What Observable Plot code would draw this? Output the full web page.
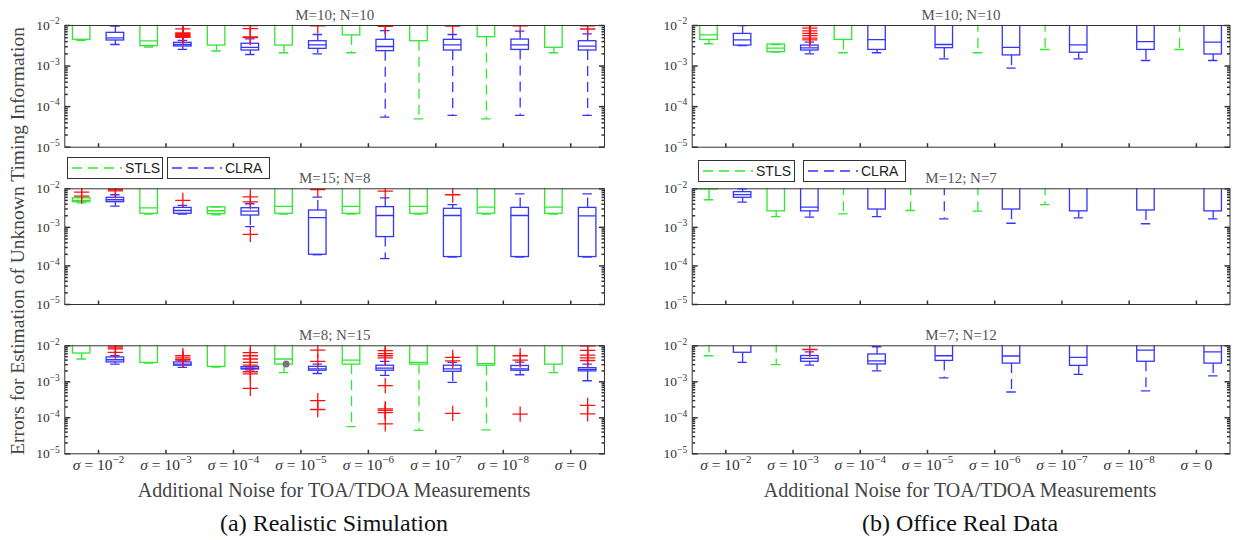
<!DOCTYPE html>
<html><head><meta charset="utf-8">
<script src="https://cdn.jsdelivr.net/npm/d3@7"></script>
<script src="https://cdn.jsdelivr.net/npm/@observablehq/plot@0.6"></script>
<style>
body{margin:0;background:#fff;}
#root{position:relative;width:1233px;height:540px;overflow:hidden;background:#fff;font-family:"Liberation Serif",serif;}
.pnl{position:absolute;}
.leg{position:absolute;height:22px;border:1px solid #333;background:#fff;box-sizing:border-box;display:flex;align-items:center;font-family:"Liberation Sans",Arial,sans-serif;font-size:14px;color:#222;z-index:5;}
.leg svg{margin-left:3px;margin-right:2px;}
.txt{position:absolute;white-space:nowrap;transform:translateX(-50%);line-height:1.15;}
</style></head>
<body><div id="root"></div>
<script>
// ---------- data ----------
const categories = ["σ = 10^-2","σ = 10^-3","σ = 10^-4","σ = 10^-5","σ = 10^-6","σ = 10^-7","σ = 10^-8","σ = 0"];
const methods = ["STLS","CLRA"];
const yMajorTicks = [1e-5, 1e-4, 1e-3, 1e-2];
const panelTitles = ["M=10; N=10","M=15; N=8","M=8; N=15","M=10; N=10","M=12; N=7","M=7; N=12"];
const columnCaptions = ["(a) Realistic Simulation","(b) Office Real Data"];
const xTitle = "Additional Noise for TOA/TDOA Measurements";
const yTitle = "Errors for Estimation of Unknown Timing Information";

// box stats per category: [low whisker, q1, median, q3, high whisker]; values above 1e-2 fall outside the axis
const a1_STLS = [[4.3e-3,4.45e-3,1.2e-2,1.4e-2,1.6e-2],[2.95e-3,3.1e-3,4.2e-3,1.3e-2,1.6e-2],[2.35e-3,3.2e-3,1.2e-2,1.4e-2,1.6e-2],[2.13e-3,3.2e-3,1.2e-2,1.4e-2,1.6e-2],[2.13e-3,5.7e-3,1.2e-2,1.4e-2,1.6e-2],[5.0e-5,4.1e-3,1.2e-2,1.4e-2,1.6e-2],[5.0e-5,5.15e-3,1.2e-2,1.4e-2,1.6e-2],[2.13e-3,2.82e-3,1.2e-2,1.4e-2,1.6e-2]];
const a1_CLRA = [[3.4e-3,4.27e-3,4.97e-3,6.6e-3,9.6e-3],[2.57e-3,3.04e-3,3.4e-3,3.75e-3,4.3e-3],[1.93e-3,2.42e-3,2.9e-3,3.55e-3,4.7e-3],[2.0e-3,2.66e-3,3.34e-3,4.1e-3,6.0e-3],[5.5e-5,2.33e-3,3.04e-3,4.44e-3,7.5e-3],[6.1e-5,2.42e-3,3.34e-3,4.44e-3,6.0e-3],[6.1e-5,2.5e-3,3.34e-3,4.5e-3,7.25e-3],[6.1e-5,2.42e-3,3.1e-3,4.1e-3,6.2e-3]];
const a1_outliers = [[1,"CLRA",8.3e-3],[1,"CLRA",6.6e-3],[1,"CLRA",6.3e-3],[1,"CLRA",6.0e-3],[1,"CLRA",5.7e-3],[1,"CLRA",5.4e-3],[1,"CLRA",5.1e-3],[2,"CLRA",1.0e-2],[2,"CLRA",8.4e-3],[2,"CLRA",5.2e-3],[2,"CLRA",5.0e-3],[3,"CLRA",9.8e-3],[4,"CLRA",1.0e-2],[4,"CLRA",9.5e-3],[5,"CLRA",9.6e-3],[6,"CLRA",9.8e-3],[7,"CLRA",9.8e-3],[7,"CLRA",8.2e-3]];

const a2_STLS = [[4.3e-3,4.5e-3,4.97e-3,5.7e-3,5.9e-3],[2.2e-3,2.25e-3,3.2e-3,1.3e-2,1.6e-2],[2.1e-3,2.2e-3,2.7e-3,3.3e-3,3.4e-3],[2.2e-3,2.25e-3,3.5e-3,1.3e-2,1.6e-2],[2.2e-3,2.25e-3,3.5e-3,1.3e-2,1.6e-2],[2.2e-3,2.25e-3,3.5e-3,1.3e-2,1.6e-2],[2.2e-3,2.25e-3,3.35e-3,1.3e-2,1.6e-2],[2.2e-3,2.25e-3,3.35e-3,1.3e-2,1.6e-2]];
const a2_CLRA = [[3.55e-3,4.5e-3,5.2e-3,5.85e-3,7.0e-3],[2.2e-3,2.25e-3,2.74e-3,3.2e-3,3.7e-3],[1.05e-3,2.03e-3,2.63e-3,3.14e-3,4.1e-3],[1.95e-4,1.95e-4,1.78e-3,2.74e-3,6.1e-3],[1.55e-4,5.6e-4,2.03e-3,3.35e-3,5.85e-3],[1.7e-4,1.7e-4,2.03e-3,3.03e-3,3.9e-3],[1.7e-4,1.7e-4,2.03e-3,3.2e-3,7.4e-3],[1.7e-4,1.7e-4,1.98e-3,3.2e-3,7.4e-3]];
const a2_outliers = [[0,"STLS",8.2e-3],[0,"STLS",6.45e-3],[0,"CLRA",9.6e-3],[0,"CLRA",8.8e-3],[1,"CLRA",5.0e-3],[2,"CLRA",6.2e-3],[2,"CLRA",4.6e-3],[2,"CLRA",6.6e-4],[3,"CLRA",9.6e-3],[4,"CLRA",8.7e-3],[5,"CLRA",7.0e-3]];

const a3_STLS = [[4.3e-3,6.1e-3,1.2e-2,1.4e-2,1.6e-2],[3.3e-3,3.35e-3,1.2e-2,1.4e-2,1.6e-2],[2.55e-3,2.6e-3,1.2e-2,1.4e-2,1.6e-2],[1.8e-3,3.0e-3,4.3e-3,1.3e-2,1.6e-2],[5.7e-5,3.0e-3,4.0e-3,1.3e-2,1.6e-2],[4.5e-5,3.0e-3,3.46e-3,1.3e-2,1.6e-2],[4.6e-5,2.8e-3,3.2e-3,1.3e-2,1.6e-2],[1.8e-3,3.0e-3,1.2e-2,1.4e-2,1.6e-2]];
const a3_CLRA = [[3.1e-3,3.46e-3,4.1e-3,4.75e-3,5.3e-3],[2.5e-3,2.8e-3,3.1e-3,3.46e-3,3.8e-3],[2.15e-3,2.2e-3,2.35e-3,2.55e-3,2.6e-3],[1.7e-3,2.03e-3,2.3e-3,2.6e-3,3.1e-3],[1.5e-3,2.03e-3,2.4e-3,2.8e-3,3.67e-3],[9.6e-4,1.9e-3,2.3e-3,2.8e-3,3.46e-3],[1.57e-3,2.03e-3,2.3e-3,2.75e-3,3.5e-3],[1.07e-3,1.95e-3,2.2e-3,2.4e-3,3.1e-3]];
const a3_outliers = [[0,"CLRA",9.8e-3],[0,"CLRA",8.8e-3],[0,"CLRA",8.2e-3],[0,"CLRA",6.6e-3],[1,"CLRA",5.3e-3],[1,"CLRA",4.6e-3],[1,"CLRA",4.2e-3],[1,"CLRA",4.0e-3],[2,"CLRA",6.5e-3],[2,"CLRA",5.3e-3],[2,"CLRA",4.3e-3],[2,"CLRA",3.45e-3],[2,"CLRA",2.9e-3],[2,"CLRA",1.9e-3],[2,"CLRA",1.65e-3],[2,"CLRA",6.6e-4],[3,"CLRA",7.6e-3],[3,"CLRA",3.7e-3],[3,"CLRA",3.0e-4],[3,"CLRA",1.7e-4],[4,"CLRA",7.3e-3],[4,"CLRA",6.1e-3],[4,"CLRA",5.3e-3],[4,"CLRA",4.6e-3],[4,"CLRA",7.8e-4],[4,"CLRA",1.78e-4],[4,"CLRA",1.6e-4],[4,"CLRA",1.4e-4],[4,"CLRA",6.8e-5],[5,"CLRA",4.75e-3],[5,"CLRA",3.8e-3],[5,"CLRA",1.33e-4],[6,"CLRA",5.3e-3],[6,"CLRA",4.0e-3],[6,"CLRA",1.27e-4],[7,"CLRA",1.0e-2],[7,"CLRA",7.5e-3],[7,"CLRA",5.5e-3],[7,"CLRA",4.6e-3],[7,"CLRA",3.9e-3],[7,"CLRA",2.2e-4],[7,"CLRA",1.29e-4]];
const a3_meanMarks = [[3,"STLS",3.1e-3]];

const b1_STLS = [[3.55e-3,4.4e-3,5.9e-3,1.3e-2,1.6e-2],[2.2e-3,2.2e-3,2.76e-3,3.4e-3,3.4e-3],[2.13e-3,4.4e-3,1.2e-2,1.3e-2,1.6e-2],null,[2.13e-3,1.2e-2,1.3e-2,1.4e-2,1.6e-2],[2.56e-3,1.2e-2,1.3e-2,1.4e-2,1.6e-2],null,[2.56e-3,1.2e-2,1.3e-2,1.4e-2,1.6e-2]];
const b1_CLRA = [[3.2e-3,3.2e-3,4.4e-3,6.2e-3,1.0e-2],[2.0e-3,2.42e-3,2.82e-3,3.2e-3,3.9e-3],[2.13e-3,2.5e-3,4.5e-3,1.3e-2,1.6e-2],[1.5e-3,2.76e-3,3.4e-3,1.3e-2,1.6e-2],[8.9e-4,1.83e-3,2.9e-3,1.3e-2,1.6e-2],[1.5e-3,2.13e-3,3.34e-3,1.3e-2,1.6e-2],[1.37e-3,2.5e-3,4.0e-3,1.3e-2,1.6e-2],[1.37e-3,1.93e-3,3.9e-3,1.3e-2,1.6e-2]];
const b1_outliers = [[1,"CLRA",1.0e-2],[1,"CLRA",8.6e-3],[1,"CLRA",7.4e-3],[1,"CLRA",6.4e-3],[1,"CLRA",5.6e-3],[1,"CLRA",4.9e-3],[1,"CLRA",4.4e-3]];

const b2_STLS = [[5.2e-3,9.6e-3,1.2e-2,1.3e-2,1.6e-2],[1.9e-3,2.6e-3,1.2e-2,1.3e-2,1.6e-2],[2.25e-3,1.2e-2,1.3e-2,1.4e-2,1.6e-2],[2.74e-3,1.2e-2,1.3e-2,1.4e-2,1.6e-2],[2.63e-3,1.2e-2,1.3e-2,1.4e-2,1.6e-2],[3.9e-3,1.2e-2,1.3e-2,1.4e-2,1.6e-2],null,null];
const b2_CLRA = [[4.5e-3,5.85e-3,7.1e-3,8.2e-3,1.0e-2],[1.84e-3,2.6e-3,3.34e-3,1.3e-2,1.6e-2],[1.9e-3,2.9e-3,1.2e-2,1.3e-2,1.6e-2],[1.67e-3,1.2e-2,1.3e-2,1.4e-2,1.6e-2],[1.28e-3,2.9e-3,1.2e-2,1.3e-2,1.6e-2],[1.77e-3,2.6e-3,1.2e-2,1.3e-2,1.6e-2],[1.24e-3,2.74e-3,1.2e-2,1.3e-2,1.6e-2],[1.67e-3,2.6e-3,1.2e-2,1.3e-2,1.6e-2]];
const b2_outliers = [];

const b3_STLS = [[5.3e-3,1.2e-2,1.3e-2,1.4e-2,1.6e-2],[3.0e-3,1.2e-2,1.3e-2,1.4e-2,1.6e-2],null,null,null,null,null,null];
const b3_CLRA = [[3.45e-3,6.4e-3,1.2e-2,1.3e-2,1.6e-2],[2.9e-3,3.6e-3,4.45e-3,5.2e-3,6.8e-3],[2.0e-3,3.03e-3,3.8e-3,5.75e-3,9.4e-3],[1.28e-3,3.8e-3,5.3e-3,1.3e-2,1.6e-2],[5.2e-4,3.2e-3,5.2e-3,1.3e-2,1.6e-2],[1.6e-3,2.77e-3,4.75e-3,1.3e-2,1.6e-2],[5.6e-4,3.6e-3,7.6e-3,1.3e-2,1.6e-2],[1.46e-3,3.2e-3,6.8e-3,1.3e-2,1.6e-2]];
const b3_outliers = [[1,"CLRA",7.9e-3]];

// ---------- styling / layout ----------
const GREEN = "#30e830", BLUE = "#3434ff", RED = "#ff1010", AXIS = "#333";
const panels = [
  {title: panelTitles[0], stls: a1_STLS, clra: a1_CLRA, out: a1_outliers, col: 0, row: 0},
  {title: panelTitles[1], stls: a2_STLS, clra: a2_CLRA, out: a2_outliers, col: 0, row: 1},
  {title: panelTitles[2], stls: a3_STLS, clra: a3_CLRA, out: a3_outliers, marks: a3_meanMarks, col: 0, row: 2},
  {title: panelTitles[3], stls: b1_STLS, clra: b1_CLRA, out: b1_outliers, col: 1, row: 0},
  {title: panelTitles[4], stls: b2_STLS, clra: b2_CLRA, out: b2_outliers, col: 1, row: 1},
  {title: panelTitles[5], stls: b3_STLS, clra: b3_CLRA, out: b3_outliers, col: 1, row: 2}
];
const colGeom = [{left: 0, width: 620, ml: 64.3, mr: 16}, {left: 630, width: 603, ml: 61.7, mr: 3.5}];
const rowGeom = [{top: 0, height: 160, mt: 25, mb: 13.3}, {top: 160, height: 160, mt: 28.3, mb: 16}, {top: 320, height: 160, mt: 25.3, mb: 26.7}];

const offsets = {STLS: -0.25, CLRA: 0.25};
const HALF = 0.13, CAP = 0.07;

// tick symbols drawn inward from the frame edge, length = r
const tickSym = (ux, uy) => ({draw(ctx, size) { const l = Math.sqrt(size / Math.PI); ctx.moveTo(0, 0); ctx.lineTo(ux * l, uy * l); }});
const minorTicks = [];
for (const dec of [1e-5, 1e-4, 1e-3]) for (let k = 2; k <= 9; k++) minorTicks.push(k * dec);

function boxRows(stls, clra) {
  const rows = [];
  [stls, clra].forEach((arr, m) => arr.forEach((s, i) => {
    if (!s) return;
    const [lo, q1, med, q3, hi] = s;
    const method = methods[m];
    rows.push({method, x: i + 1 + offsets[method], lo, q1, med, q3, hi});
  }));
  return rows;
}

function tsp(txt) { const t = document.createElementNS("http://www.w3.org/2000/svg", "tspan"); t.textContent = txt; return t; }
function richLabel(t, supSize, supDy) {
  const s = t.textContent; t.textContent = "";
  let main = s, sup = null;
  const k = s.indexOf("^");
  if (k >= 0) { main = s.slice(0, k); sup = s.slice(k + 1).replace("-", "\u2212"); }
  if (main.startsWith("σ")) { const it = tsp("σ"); it.setAttribute("font-style", "italic"); t.appendChild(it); main = main.slice(1); }
  t.appendChild(document.createTextNode(main));
  if (sup) { const st = tsp(sup); st.setAttribute("font-size", supSize); st.setAttribute("dy", supDy); t.appendChild(st); }
}

const root = document.getElementById("root");

panels.forEach(p => {
  const cg = colGeom[p.col], rg = rowGeom[p.row];
  const rows = boxRows(p.stls, p.clra);
  const outs = p.out.map(([c, m, v]) => ({x: c + 1 + offsets[m], v}));
  const marks = [
    Plot.ruleX(rows, {x: "x", y1: "q3", y2: "hi", stroke: "method", strokeWidth: 1.3, strokeDasharray: "10,6", clip: true}),
    Plot.ruleX(rows, {x: "x", y1: "q1", y2: "lo", stroke: "method", strokeWidth: 1.3, strokeDasharray: "10,6", clip: true}),
    Plot.ruleY(rows, {y: "hi", x1: d => d.x - CAP, x2: d => d.x + CAP, stroke: "method", strokeWidth: 1.3, clip: true}),
    Plot.ruleY(rows, {y: "lo", x1: d => d.x - CAP, x2: d => d.x + CAP, stroke: "method", strokeWidth: 1.3, clip: true}),
    Plot.rect(rows, {x1: d => d.x - HALF, x2: d => d.x + HALF, y1: "q1", y2: "q3", fill: "none", stroke: "method", strokeWidth: 1.3, clip: true}),
    Plot.ruleY(rows, {y: "med", x1: d => d.x - HALF, x2: d => d.x + HALF, stroke: "method", strokeWidth: 1.3, clip: true}),
    Plot.dot(outs, {x: "x", y: "v", symbol: "plus", r: 5, stroke: RED, strokeWidth: 1.3, clip: true}),
    Plot.frame({stroke: AXIS, strokeWidth: 1}),
    // y ticks (inward, both sides)
    Plot.dot(yMajorTicks, {x: 0.5, y: d => d, symbol: tickSym(1, 0), r: 5.5, fill: "none", stroke: AXIS}),
    Plot.dot(minorTicks, {x: 0.5, y: d => d, symbol: tickSym(1, 0), r: 3, fill: "none", stroke: AXIS}),
    Plot.dot(yMajorTicks, {x: 8.5, y: d => d, symbol: tickSym(-1, 0), r: 5.5, fill: "none", stroke: AXIS}),
    Plot.dot(minorTicks, {x: 8.5, y: d => d, symbol: tickSym(-1, 0), r: 3, fill: "none", stroke: AXIS}),
    // x ticks (inward, bottom)
    Plot.dot(categories, {x: (d, i) => i + 1, y: 1e-5, symbol: tickSym(0, -1), r: 4, fill: "none", stroke: AXIS}),
    Plot.axisY({anchor: "left", label: null, ticks: yMajorTicks, tickSize: 0, tickPadding: 5, fontSize: 13.5, tickFormat: d => "10^" + Math.round(Math.log10(d))}),
    Plot.text([p.title], {text: d => d, frameAnchor: "top", lineAnchor: "bottom", dy: -6, fontSize: 15, fill: "#555"})
  ];
  if (p.marks) marks.push(Plot.dot(p.marks.map(([c, m, v]) => ({x: c + 1 + offsets[m] + 0.03, v})), {x: "x", y: "v", r: 3.5, fill: "#777", clip: true}));
  if (p.row === 2) marks.push(Plot.axisX({anchor: "bottom", label: null, ticks: categories.map((d, i) => i + 1), tickSize: 0, tickPadding: 5, fontSize: 15.5, tickFormat: i => categories[i - 1]}));
  else marks.push(Plot.axisX({anchor: "bottom", label: null, ticks: [], tickSize: 0}));

  const svg = Plot.plot({
    width: cg.width, height: rg.height,
    marginLeft: cg.ml, marginRight: cg.mr, marginTop: rg.mt, marginBottom: rg.mb,
    x: {type: "linear", domain: [0.5, 8.5], label: null},
    y: {type: "log", domain: [1e-5, 1e-2], label: null},
    color: {domain: methods, range: [GREEN, BLUE]},
    style: {fontFamily: "'Liberation Serif', serif", color: AXIS, background: "none", overflow: "visible"},
    marks
  });
  svg.querySelectorAll('g[aria-label="y-axis tick label"] text').forEach(t => richLabel(t, "9.5px", "-5.5"));
  svg.querySelectorAll('g[aria-label="x-axis tick label"] text').forEach(t => richLabel(t, "11px", "-6.5"));
  svg.classList.add("pnl");
  svg.style.left = cg.left + "px";
  svg.style.top = rg.top + "px";
  root.appendChild(svg);
});

// legends (in the middle row of each column)
const legendGeom = [[{left: 67, top: 157, width: 96}, {left: 167, top: 157, width: 103}], [{left: 698, top: 160, width: 97}, {left: 803, top: 160, width: 103}]];
legendGeom.forEach(col => col.forEach((g, m) => {
  const d = document.createElement("div");
  d.className = "leg";
  d.style.left = g.left + "px"; d.style.top = g.top + "px"; d.style.width = g.width + "px";
  const color = m ? BLUE : GREEN;
  d.innerHTML = `<svg width="52" height="12"><line x1="1" y1="6" x2="51" y2="6" stroke="${color}" stroke-width="1.3" stroke-dasharray="10,6"></line></svg>`;
  const s = document.createElement("span"); s.textContent = methods[m]; d.appendChild(s);
  root.appendChild(d);
}));

// column x titles and captions
[334, 960].forEach((cx, c) => {
  const t = document.createElement("div");
  t.className = "txt"; t.textContent = xTitle;
  Object.assign(t.style, {left: cx + "px", top: "479px", fontSize: "20px", color: "#444"});
  root.appendChild(t);
  const cap = document.createElement("div");
  cap.className = "txt"; cap.textContent = columnCaptions[c];
  Object.assign(cap.style, {left: cx + "px", top: "510px", fontSize: "24px", color: "#111"});
  root.appendChild(cap);
});
// y title
const yt = document.createElement("div");
yt.textContent = yTitle;
Object.assign(yt.style, {position: "absolute", left: "18px", top: "241px", whiteSpace: "nowrap", fontSize: "19.5px", color: "#444", transform: "translate(-50%,-50%) rotate(-90deg)"});
root.appendChild(yt);
</script>
</body></html>
